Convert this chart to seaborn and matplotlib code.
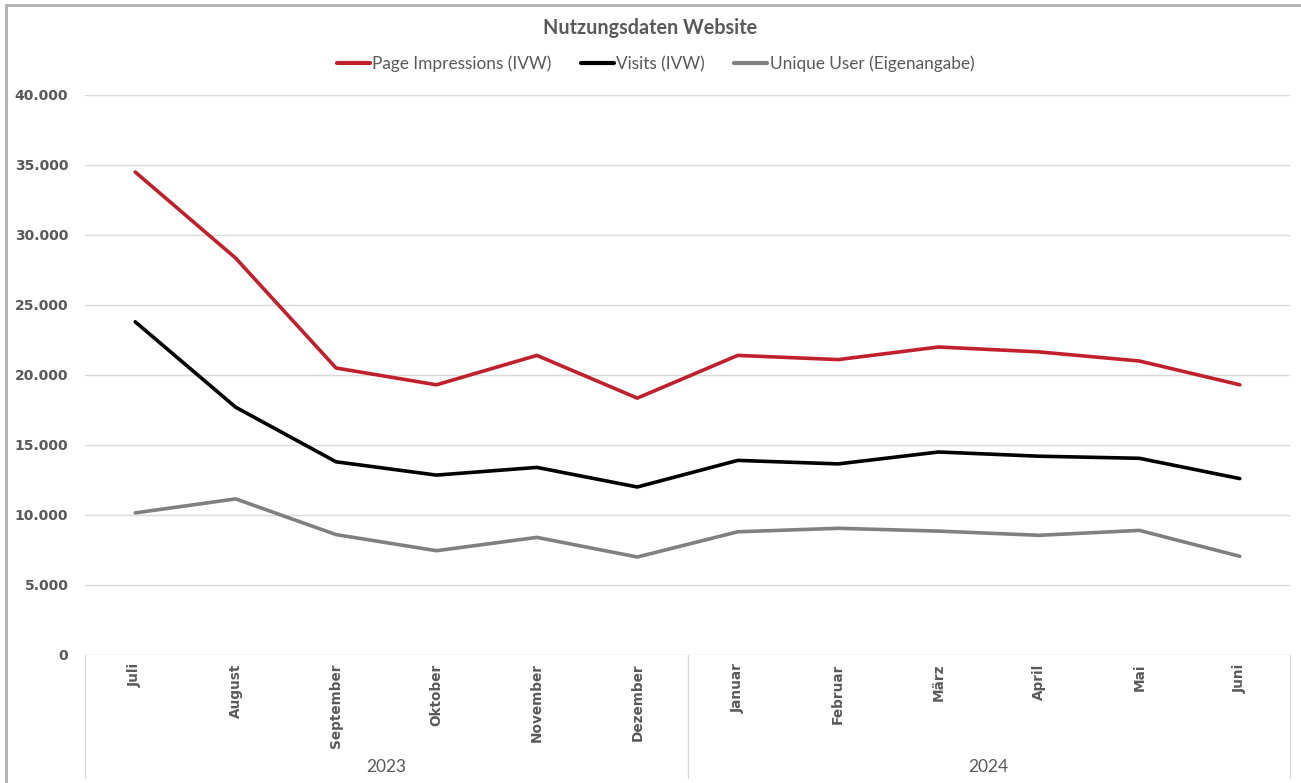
import matplotlib
matplotlib.use("Agg")
import matplotlib.pyplot as plt
import matplotlib.transforms as mtransforms
from matplotlib.lines import Line2D
from matplotlib.ticker import FuncFormatter
import pandas as pd
import seaborn as sns

# Monthly usage data, July 2023 - June 2024
months = ["Juli", "August", "September", "Oktober", "November", "Dezember",
          "Januar", "Februar", "März", "April", "Mai", "Juni"]
years = ["2023", "2024"]
page_impressions = [34500, 28350, 20500, 19300, 21400, 18350,
                    21400, 21100, 22000, 21650, 21000, 19300]
visits = [23800, 17700, 13800, 12850, 13400, 12000,
          13900, 13650, 14500, 14200, 14050, 12600]
unique_users = [10150, 11150, 8600, 7450, 8400, 7000,
                8800, 9050, 8850, 8550, 8900, 7050]
series_names = ["Page Impressions (IVW)", "Visits (IVW)", "Unique User (Eigenangabe)"]
series_colors = ["#C0202B", "#000000", "#808080"]

df = pd.concat([
    pd.DataFrame({"idx": range(len(months)), "Monat": months, "Wert": vals, "Reihe": name})
    for name, vals in zip(series_names, [page_impressions, visits, unique_users])
])

sns.set_theme(style="white")
plt.rcParams["font.family"] = ["DejaVu Sans"]
TEXT = "#595959"
GRID = "#D9D9D9"
LABEL_FONT = ["Lato", "DejaVu Sans"]

W, H = 1301, 783
fig = plt.figure(figsize=(W / 100, H / 100), dpi=100)
ax = fig.add_axes([85 / W, 1 - 655 / H, (1290 - 85) / W, (655 - 95) / H])

sns.lineplot(data=df, x="idx", y="Wert", hue="Reihe", hue_order=series_names,
             palette=series_colors, linewidth=2.6, ax=ax, legend=False, sort=False)
for ln in ax.lines:
    ln.set_solid_capstyle("round")
    ln.set_solid_joinstyle("round")

ax.set_xlim(-0.5, len(months) - 0.5)
ax.set_ylim(0, 40000)
ax.set_yticks(range(0, 40001, 5000))
ax.yaxis.set_major_formatter(FuncFormatter(lambda v, p: f"{int(v):,}".replace(",", ".")))
ax.grid(axis="y", color=GRID, linewidth=1)
ax.set_axisbelow(True)
for s in ax.spines.values():
    s.set_visible(False)

ax.set_xticks(range(len(months)))
ax.set_xticklabels(months, rotation=90, va="top", ha="center")
ax.tick_params(axis="x", length=0, pad=6, labelsize=9.8, labelcolor=TEXT)
ax.tick_params(axis="y", length=0, pad=12, labelsize=10, labelcolor=TEXT)
for lab in ax.get_xticklabels() + ax.get_yticklabels():
    lab.set_fontweight("bold")
ax.set_xlabel("")
ax.set_ylabel("")

# Two-level category axis: separators and year labels
trans = mtransforms.blended_transform_factory(ax.transData, ax.transAxes)
depth = -(778 - 655) / (655 - 95)
n_per_year = len(months) // len(years)
for b in [-0.5 + k * n_per_year for k in range(len(years) + 1)]:
    ax.add_line(Line2D([b, b], [0, depth], transform=trans, color=GRID,
                       linewidth=1, clip_on=False))
for k, yr in enumerate(years):
    ax.text(k * n_per_year + (n_per_year - 1) / 2, -(767 - 655) / (655 - 95), yr,
            transform=trans, ha="center", va="center", fontsize=12.5,
            color=TEXT, family=LABEL_FONT)

fig.text(0.5, 1 - 28 / H, "Nutzungsdaten Website", ha="center", va="center",
         fontsize=14.2, fontweight="bold", color=TEXT, family=LABEL_FONT)

handles = [Line2D([], [], color=c, linewidth=3) for c in series_colors]
leg = fig.legend(handles, series_names, loc="center", bbox_to_anchor=(0.504, 1 - 64 / H),
                 ncol=3, frameon=False, handlelength=1.9, handletextpad=0.15,
                 columnspacing=1.7, prop={"family": LABEL_FONT, "size": 12.4})
for t in leg.get_texts():
    t.set_color(TEXT)

# Chart frame
fig.add_artist(Line2D([6 / W, 6 / W], [0, 1 - 5 / H], transform=fig.transFigure,
                      color="#B0B0B0", linewidth=2))
fig.add_artist(Line2D([6 / W, 1], [1 - 5 / H, 1 - 5 / H], transform=fig.transFigure,
                      color="#B0B0B0", linewidth=2))

fig.savefig("out.png", dpi=100, facecolor="white")
